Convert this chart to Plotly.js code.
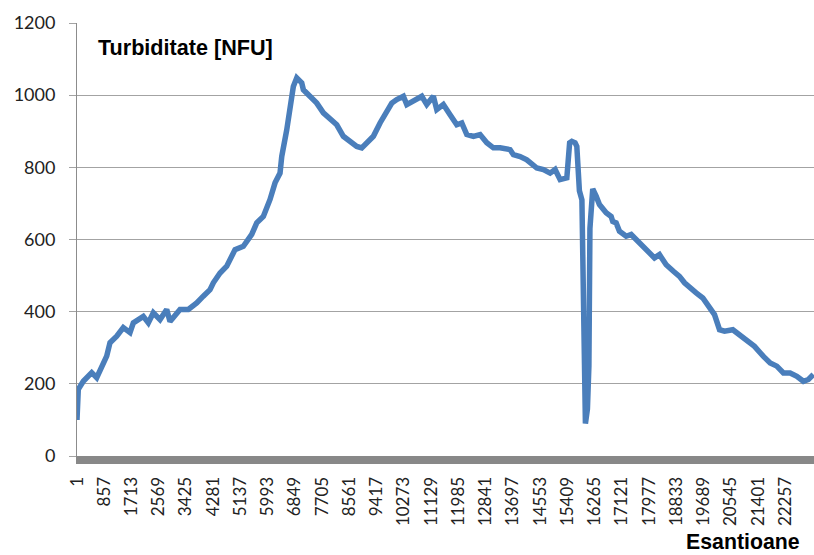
<!DOCTYPE html>
<html>
<head>
<meta charset="utf-8">
<script src="https://cdn.plot.ly/plotly-3.0.1.min.js"></script>
<style>
  html, body { margin: 0; padding: 0; background: #ffffff; }
  #chart { width: 814px; height: 555px; }
</style>
</head>
<body>
<div id="chart"></div>
<script>
// Sample index (x)
const samples = [1,42,199,463,620,828,934,1038,1249,1456,
  1667,1771,2085,2242,2399,2610,2820,2924,3238,3499,
  3763,3970,4181,4285,4496,4706,4967,5228,5492,5649,
  5856,6067,6224,6381,6435,6592,6718,6799,6906,7063,
  7114,7324,7535,7742,7953,8163,8371,8581,8792,8949,
  9106,9314,9524,9735,9892,10049,10257,10364,10571,10835,
  10992,11199,11306,11513,11724,11935,12092,12249,12457,12667,
  12878,13085,13296,13610,13714,13925,14135,14239,14450,14657,
  14868,15025,15182,15393,15418,15481,15550,15653,15707,15757,
  15788,15867,15898,15930,15977,16040,16087,16119,16166,16207,
  16314,16418,16629,16786,16836,16943,17047,17258,17415,17572,
  17780,17886,17990,18147,18304,18515,18742,18933,19091,19248,
  19458,19666,19876,20033,20191,20348,20609,20818,21029,21290,
  21571,21782,21992,22199,22410,22620,22828,22985,23142];

// Turbidity values [NFU]
const turbidity = [100,185,207,231,217,259,277,314,332,356,
  342,369,387,369,397,378,406,373,406,406,
  424,443,461,480,507,526,572,581,614,646,
  664,711,757,784,830,904,978,1024,1048,1034,
  1015,997,978,951,932,918,886,872,858,854,
  868,886,923,951,978,988,997,974,983,997,
  974,997,960,974,946,918,923,891,886,891,
  868,854,854,849,835,830,821,812,798,794,
  784,794,766,771,790,868,872,868,858,800,
  735,710,480,130,90,130,250,630,730,740,
  720,697,674,664,650,646,623,609,614,600,
  586,577,567,549,558,530,512,498,480,466,
  452,438,415,392,350,346,350,337,323,304,
  276,258,249,230,230,221,207,212,226];

// Category tick labels on the x axis
const xTickLabels = [1,857,1713,2569,3425,4281,5137,5993,6849,7705,8561,9417,10273,11129,
  11985,12841,13697,14553,15409,16265,17121,17977,18833,19689,20545,21401,22257];

const yTickValues = [0,200,400,600,800,1000,1200];

const trace = {
  x: samples,
  y: turbidity,
  type: 'scatter',
  mode: 'lines',
  line: { color: '#4a7ebb', width: 5.5 },
  hoverinfo: 'x+y'
};

const layout = {
  width: 814,
  height: 555,
  margin: { l: 77, r: 0, t: 23, b: 99 },
  paper_bgcolor: '#ffffff',
  plot_bgcolor: '#ffffff',
  showlegend: false,
  font: { family: 'Lato, "Open Sans", sans-serif', color: '#222222' },
  xaxis: {
    range: [1, 23160],
    tickmode: 'array',
    tickvals: xTickLabels,
    ticktext: xTickLabels.map(String),
    tickangle: -90,
    tickfont: { size: 17, family: 'Lato, sans-serif', color: '#222222' },
    showgrid: false,
    zeroline: false,
    showline: true,
    linecolor: '#888888',
    linewidth: 8,
    ticks: '',
    ticklabelstandoff: 6
  },
  yaxis: {
    range: [0, 1200],
    tickmode: 'array',
    tickvals: yTickValues,
    tickfont: { size: 18, family: 'Lato, sans-serif', color: '#222222' },
    showgrid: true,
    gridcolor: '#a3a3a3',
    gridwidth: 1,
    zeroline: false,
    showline: true,
    linecolor: '#8c8c8c',
    linewidth: 1,
    ticks: 'outside',
    ticklen: 7,
    tickcolor: '#a3a3a3',
    ticklabelstandoff: 10
  },
  annotations: [
    {
      text: 'Turbiditate [NFU]',
      xref: 'paper', yref: 'paper',
      x: 0.026, y: 0.943,
      xanchor: 'left', yanchor: 'middle',
      showarrow: false,
      font: { family: '"Liberation Sans", Arial, sans-serif', size: 21.6, color: '#000000', weight: 'bold' }
    },
    {
      text: 'Esantioane',
      xref: 'paper', yref: 'paper',
      x: 0.984, y: -0.199,
      xanchor: 'right', yanchor: 'middle',
      showarrow: false,
      font: { family: '"Liberation Sans", Arial, sans-serif', size: 21.3, color: '#000000', weight: 'bold' }
    }
  ]
};

Plotly.newPlot('chart', [trace], layout, { displayModeBar: false, staticPlot: true });
</script>
</body>
</html>
